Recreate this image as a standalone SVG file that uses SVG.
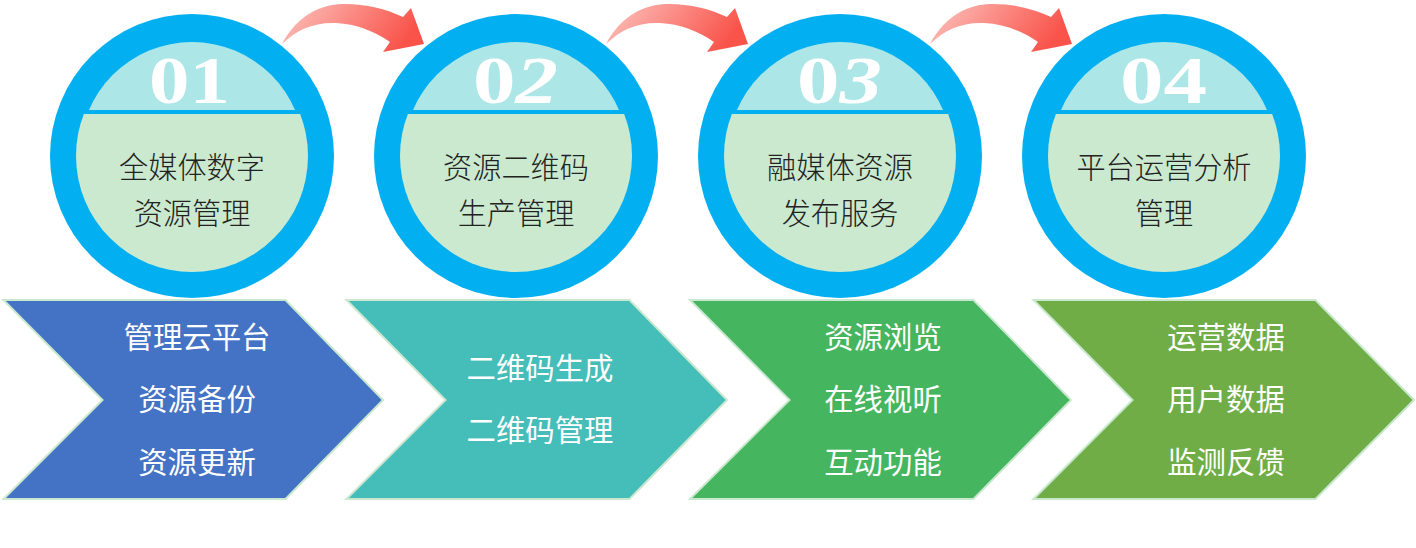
<svg xmlns="http://www.w3.org/2000/svg" width="1416" height="548" viewBox="0 0 1416 548">
<style>
.ring{fill:#02b0f2}
.cap{fill:#ace6e7}
.body{fill:#cae9cf}
.num{font-family:"Liberation Serif",serif;font-weight:700;font-size:67px;fill:#fff}
.t{font-family:"Noto Sans CJK SC","Noto Sans",sans-serif;text-anchor:middle}
.it{font-style:italic}
.d{fill:#222;font-weight:300;font-size:29.2px}
.w{fill:#fff;font-size:29.4px}
.chev{stroke:#c9e8cf;stroke-width:2}
.arrow{fill:url(#ag)}
</style>
<defs>
<linearGradient id="ag" x1="0" y1="0" x2="1" y2="0.25"><stop offset="0" stop-color="#fcc5c0"/><stop offset="1" stop-color="#f9534a"/></linearGradient>
<clipPath id="capc"><rect x="0" y="0" width="284" height="110"/></clipPath>
<clipPath id="bodyc"><rect x="0" y="114" width="284" height="184"/></clipPath>
<g id="disc">
<circle class="ring" cx="142" cy="156" r="142"/>
<circle class="cap" cx="142" cy="154" r="112" clip-path="url(#capc)"/>
<circle class="body" cx="142" cy="156" r="116" clip-path="url(#bodyc)"/>
</g>
<path id="arr" class="arrow" d="M282 44C298 14 322 4 345 4C366 4 386 9 403 17L411 8L424 44L383 52L390 42C374 31 356 24 336 23C314 22 296 30 282 44Z"/>
</defs>
<g id="connectors">
<use href="#arr"/>
<use href="#arr" x="324"/>
<use href="#arr" x="648"/>
</g>
<g id="node1"><use href="#disc" x="50"/><text class="num" x="149" y="103" textLength="81" lengthAdjust="spacingAndGlyphs">01</text><text class="t d" x="192" y="178">全媒体数字</text><text class="t d" x="192" y="224">资源管理</text></g>
<g id="node2"><use href="#disc" x="374"/><text class="num" x="473" y="103" textLength="85" lengthAdjust="spacingAndGlyphs">0<tspan class="it">2</tspan></text><text class="t d" x="516" y="178">资源二维码</text><text class="t d" x="516" y="224">生产管理</text></g>
<g id="node3"><use href="#disc" x="698"/><text class="num" x="797" y="103" textLength="85" lengthAdjust="spacingAndGlyphs">0<tspan class="it">3</tspan></text><text class="t d" x="840" y="178">融媒体资源</text><text class="t d" x="840" y="224">发布服务</text></g>
<g id="node4"><use href="#disc" x="1022"/><text class="num" x="1120" y="103" textLength="87" lengthAdjust="spacingAndGlyphs">04</text><text class="t d" x="1164" y="178">平台运营分析</text><text class="t d" x="1164" y="224">管理</text></g>
<g id="step1"><polygon class="chev" fill="#4472c4" points="3.5,300 285.5,300 383,400 285.5,499 3.5,499 102.5,400"/><text class="t w" x="197" y="348">管理云平台</text><text class="t w" x="197" y="410">资源备份</text><text class="t w" x="197" y="473">资源更新</text></g>
<g id="step2"><polygon class="chev" fill="#45bdb8" points="346.5,300 629.5,300 727,400 629.5,499 346.5,499 445.5,400"/><text class="t w" x="540" y="379">二维码生成</text><text class="t w" x="540" y="441">二维码管理</text></g>
<g id="step3"><polygon class="chev" fill="#46b560" points="690,300 973.5,300 1071,400 973.5,499 690,499 789.5,400"/><text class="t w" x="883" y="348">资源浏览</text><text class="t w" x="883" y="410">在线视听</text><text class="t w" x="883" y="473">互动功能</text></g>
<g id="step4"><polygon class="chev" fill="#70ad47" points="1033.5,300 1315.5,300 1414,400 1315.5,499 1033.5,499 1132.5,400"/><text class="t w" x="1226" y="348">运营数据</text><text class="t w" x="1226" y="410">用户数据</text><text class="t w" x="1226" y="473">监测反馈</text></g>
</svg>
